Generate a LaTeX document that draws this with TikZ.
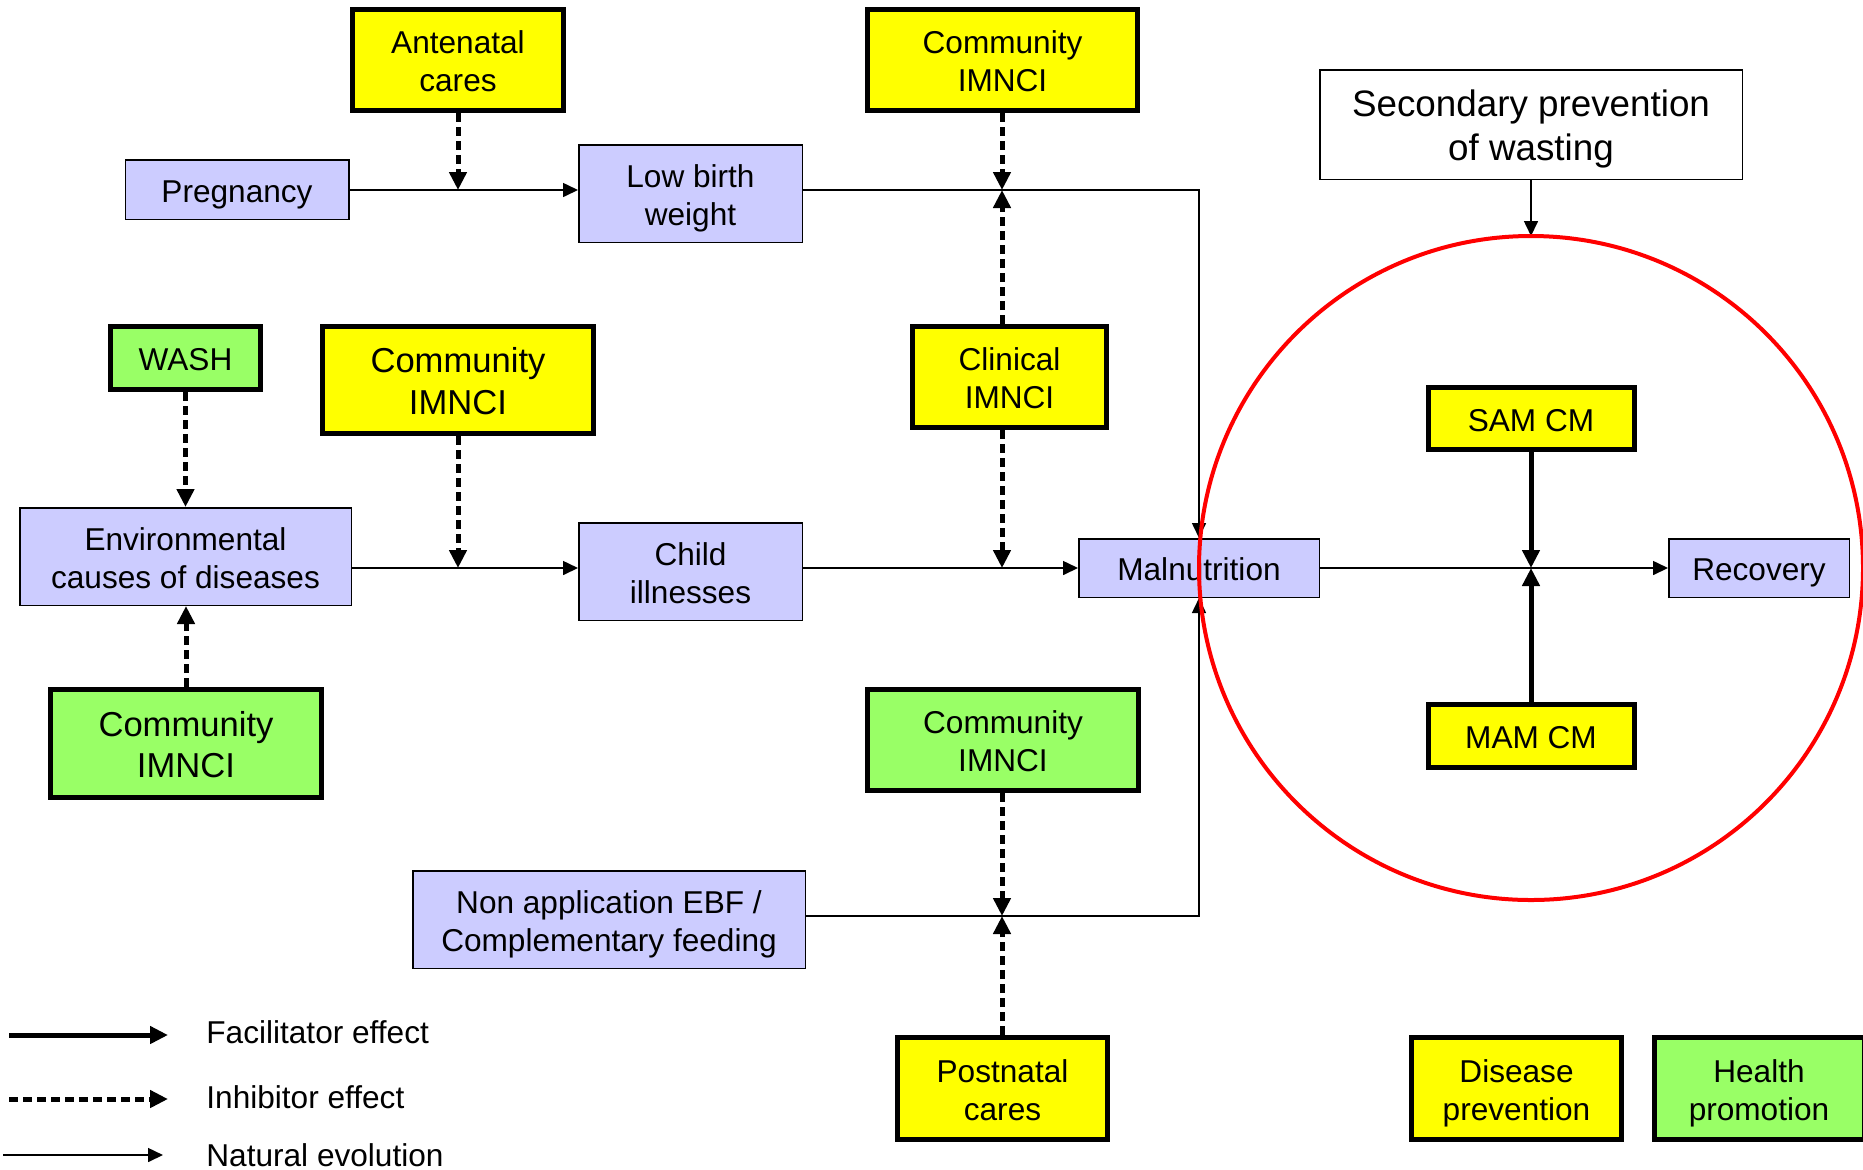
\documentclass[tikz,border=0pt]{standalone}
\usepackage{fontspec}
\setmainfont{Liberation Sans}
\usetikzlibrary{arrows.meta}
\definecolor{lav}{HTML}{CCCCFF}
\definecolor{yel}{HTML}{FFFF00}
\definecolor{grn}{HTML}{99FF66}

% centred box text, set a little low as in a slide text frame
\newcommand\bt[1]{\raisebox{-2.5pt}[\height][\depth]{\begin{tabular}{@{}c@{}}#1\end{tabular}}}

\tikzset{
  base/.style={draw=black, inner sep=0pt, font=\fontsize{15.8}{19}\selectfont},
  bigtext/.style={font=\fontsize{17.3}{20.8}\selectfont},
  state/.style={base, fill=lav, line width=0.75pt},
  prevbox/.style={base, fill=yel, line width=2.5pt},
  promobox/.style={base, fill=grn, line width=2.5pt},
  sz/.style 2 args={minimum width=#1, minimum height=#2},
  natural/.style={line width=0.8pt, -{Triangle[length=7.5pt,width=7pt]}},
  inhib/.style={line width=2.5pt, dash pattern=on 4.5pt off 2.5pt, -{Triangle[length=9pt,width=8.5pt]}},
  facil/.style={line width=2.5pt, -{Triangle[length=9pt,width=8.5pt]}},
  legtext/.style={anchor=base west, inner sep=0pt, font=\fontsize{15.8}{19}\selectfont},
}

\begin{document}
\begin{tikzpicture}[x=0.5pt,y=-0.5pt]
\useasboundingbox (0,0) rectangle (1863,1169);

% boxes
\node[prevbox, sz={105.5pt}{50.5pt}] (ante) at (458,60) {\bt{Antenatal\\cares}};
\node[prevbox, sz={135pt}{50.5pt}] (ctop) at (1002.5,60) {\bt{Community\\IMNCI}};
\node[base, fill=white, line width=0.75pt, sz={211.25pt}{54.75pt}, font=\fontsize{18.4}{22.3}\selectfont] (sec) at (1531,124.5) {\bt{Secondary prevention\\of wasting}};
\node[state, sz={111.75pt}{29.75pt}] (preg) at (237,189.5) {\bt{Pregnancy}};
\node[state, sz={111.75pt}{48.75pt}] (lbw) at (690.5,193.5) {\bt{Low birth\\weight}};
\node[promobox, sz={75pt}{31.5pt}] (wash) at (185.5,358) {\bt{WASH}};
\node[prevbox, sz={135.5pt}{53.5pt}, bigtext] (cmid) at (458,380) {\bt{Community\\IMNCI}};
\node[prevbox, sz={97pt}{50.5pt}] (clin) at (1009.5,377) {\bt{Clinical\\IMNCI}};
\node[prevbox, sz={103pt}{31pt}] (sam) at (1531,418.5) {\bt{SAM CM}};
\node[state, sz={165.75pt}{48.75pt}] (env) at (185.5,556.5) {\bt{Environmental\\causes of diseases}};
\node[state, sz={111.75pt}{48.75pt}] (child) at (690.5,571.5) {\bt{Child\\illnesses}};
\node[state, sz={120.25pt}{29.25pt}] (maln) at (1199,568) {\bt{Malnutrition}};
\node[state, sz={90.25pt}{29.25pt}] (rec) at (1759,568) {\bt{Recovery}};
\node[promobox, sz={135.5pt}{54pt}, bigtext] (cgl) at (186,743.5) {\bt{Community\\IMNCI}};
\node[promobox, sz={135.5pt}{50.5pt}] (cgc) at (1003,740) {\bt{Community\\IMNCI}};
\node[prevbox, sz={103pt}{31.5pt}] (mam) at (1531,736) {\bt{MAM CM}};
\node[state, sz={196.25pt}{48.75pt}] (nonapp) at (609,919.5) {\bt{Non application EBF /\\Complementary feeding}};
\node[prevbox, sz={105pt}{51pt}] (post) at (1002.5,1088.5) {\bt{Postnatal\\cares}};
\node[prevbox, sz={105pt}{51pt}] (dis) at (1516.5,1088.5) {\bt{Disease\\prevention}};
\node[promobox, sz={105pt}{51pt}] (hp) at (1759,1088.5) {\bt{Health\\promotion}};

% junction points on the pathways
\coordinate (jA) at (458,190);
\coordinate (jB) at (1002,190);
\coordinate (cTop) at (1199,190);
\coordinate (jC) at (458,568);
\coordinate (jD) at (1002,568);
\coordinate (jE) at (1002,916);
\coordinate (cBot) at (1199,916);
\coordinate (jF) at (1531,568);
\coordinate (circTop) at (1531,236);

% natural evolution
\draw[natural] (preg.east |- jA) -- (lbw.west |- jA);
\draw[natural] (lbw.east |- jB) -- (cTop) -- (maln.north);
\draw[natural] (env.east |- jC) -- (child.west |- jC);
\draw[natural] (child.east |- maln.west) -- (maln.west);
\draw[natural] (nonapp.east |- cBot) -- (cBot) -- (maln.south);
\draw[natural] (maln.east) -- (rec.west);
\draw[natural] (sec.south) -- (circTop);

% inhibitor effects
\draw[inhib] (ante.south) -- (jA);
\draw[inhib] (ctop.south -| jB) -- (jB);
\draw[inhib] (clin.north -| jB) -- (jB);
\draw[inhib] (clin.south -| jD) -- (jD);
\draw[inhib] (cmid.south) -- (jC);
\draw[inhib] (wash.south) -- (wash.south |- env.north);
\draw[inhib] (cgl.north) -- (cgl.north |- env.south);
\draw[inhib] (cgc.south -| jE) -- (jE);
\draw[inhib] (post.north -| jE) -- (jE);

% facilitator effects
\draw[facil] (sam.south) -- (jF);
\draw[facil] (mam.north) -- (jF);

% secondary prevention area
\draw[red, line width=2pt] (jF) circle[radius=166pt];

% legend
\coordinate (lfa) at (9,1035);
\coordinate (lfb) at (168,1035);
\coordinate (lia) at (9,1099);
\coordinate (lib) at (168,1099);
\coordinate (lna) at (3,1155);
\coordinate (lnb) at (163,1155);
\draw[facil] (lfa) -- (lfb);
\draw[inhib] (lia) -- (lib);
\draw[natural] (lna) -- (lnb);
\node[legtext] (lft) at (206,1043.5) {Facilitator effect};
\node[legtext] (lit) at (206,1108) {Inhibitor effect};
\node[legtext] (lnt) at (206,1166) {Natural evolution};
\end{tikzpicture}
\end{document}
